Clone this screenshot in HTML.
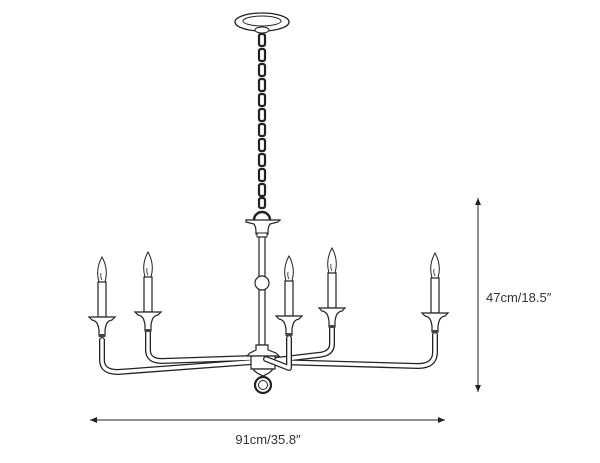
<!DOCTYPE html>
<html><head><style>
html,body{margin:0;padding:0;background:#fff;width:600px;height:463px;overflow:hidden}
text{font-family:"Liberation Sans",sans-serif;fill:#333}
</style></head><body>
<svg width="600" height="463" viewBox="0 0 600 463" xmlns="http://www.w3.org/2000/svg">
<defs>
<marker id="ar" markerWidth="8" markerHeight="8" refX="7" refY="4" orient="auto" markerUnits="userSpaceOnUse"><path d="M0,1 L7,4 L0,7 Z" fill="#222"/></marker>
<g id="candle">
 <path d="M0,-35 C-5,-26 -5,-17 -3,-10 L3,-10 C5,-17 5,-26 0,-35 Z" fill="#fff" stroke="#222" stroke-width="1"/>
 <path d="M0,-12 C-2,-15 -1,-18 -1,-19" fill="none" stroke="#222" stroke-width="0.8"/>
 <rect x="-4" y="-10" width="8" height="35" fill="#fff" stroke="#222" stroke-width="1.2"/>
 <path d="M-13,25 L13,25 L10,28 C5,29 4,32 3,38 L3,44 L-3,44 L-3,38 C-4,32 -5,29 -10,28 Z" fill="#fff" stroke="#222" stroke-width="1.2"/>
 <rect x="-3" y="42" width="6" height="3" fill="#444"/>
</g>
</defs>
<!-- canopy -->
<ellipse cx="262" cy="22" rx="27" ry="9" fill="#fff" stroke="#222" stroke-width="1.3"/>
<ellipse cx="262" cy="21" rx="19" ry="5" fill="none" stroke="#222" stroke-width="1"/>
<ellipse cx="262" cy="30" rx="7" ry="3" fill="#fff" stroke="#222" stroke-width="1"/>
<!-- chain -->
<g fill="none" stroke="#222" stroke-width="2.2">
 <rect x="259" y="34" width="6" height="12" rx="2"/>
 <rect x="259" y="49" width="6" height="12" rx="2"/>
 <rect x="259" y="64" width="6" height="12" rx="2"/>
 <rect x="259" y="79" width="6" height="12" rx="2"/>
 <rect x="259" y="94" width="6" height="12" rx="2"/>
 <rect x="259" y="109" width="6" height="12" rx="2"/>
 <rect x="259" y="124" width="6" height="12" rx="2"/>
 <rect x="259" y="139" width="6" height="12" rx="2"/>
 <rect x="259" y="154" width="6" height="12" rx="2"/>
 <rect x="259" y="169" width="6" height="12" rx="2"/>
 <rect x="259" y="184" width="6" height="12" rx="2"/>
 <rect x="259" y="198" width="6" height="10" rx="2"/>
</g>
<path d="M254,220 A8,8 0 0 1 270,220" fill="none" stroke="#222" stroke-width="2.5"/>
<!-- top plate -->
<path d="M246,220 L280,220 L278,222 L270,224 C268,227 268,230 268,234 L256,234 C256,230 256,227 254,224 L246,222 Z" fill="#fff" stroke="#222" stroke-width="1.2"/>
<rect x="257" y="233" width="10" height="4" fill="#fff" stroke="#222"/>
<rect x="259" y="237" width="6" height="108" fill="#fff" stroke="#222" stroke-width="1.2"/>
<circle cx="262" cy="283" r="7" fill="#fff" stroke="#222" stroke-width="1.2"/>
<!-- arms -->
<g fill="none" stroke-linecap="round" stroke-linejoin="round">
 <g stroke="#222" stroke-width="6">
  <path d="M102,340 L102,360 Q102,372 118,372 L252,362"/>
  <path d="M148,333 L148,350 Q148,361 162,361 L252,358"/>
  <path d="M332,328 L332,344 Q332,354 318,355 L276,360"/>
  <path d="M435,335 L435,352 Q435,366 418,366 L276,362"/>
 </g>
 <g stroke="#fff" stroke-width="3.4">
  <path d="M102,340 L102,360 Q102,372 118,372 L252,362"/>
  <path d="M148,333 L148,350 Q148,361 162,361 L252,358"/>
  <path d="M332,328 L332,344 Q332,354 318,355 L276,360"/>
  <path d="M435,335 L435,352 Q435,366 418,366 L276,362"/>
 </g>
</g>
<!-- hub -->
<path d="M256,345 L268,345 L268,350 L276,353 L279,356 L247,356 L250,353 L256,350 Z" fill="#fff" stroke="#222" stroke-width="1.2"/>
<rect x="251" y="356" width="24" height="13" fill="#fff" stroke="#222" stroke-width="1.2"/>
<path d="M253,369 L273,369 C270,373 267,374 263,376 C259,374 256,373 253,369 Z" fill="#fff" stroke="#222" stroke-width="1.2"/>
<circle cx="263" cy="385" r="8" fill="none" stroke="#222" stroke-width="2.2"/>
<circle cx="263" cy="385" r="4.5" fill="none" stroke="#222" stroke-width="1"/>
<!-- center candle arm -->
<g fill="none" stroke-linecap="round" stroke-linejoin="round">
 <path d="M289,338 L289,368 L266,359" stroke="#222" stroke-width="6"/>
 <path d="M289,338 L289,368 L266,359" stroke="#fff" stroke-width="3.4"/>
</g>
<!-- candles -->
<use href="#candle" transform="translate(102,292)"/>
<use href="#candle" transform="translate(148,287)"/>
<use href="#candle" transform="translate(289,291)"/>
<use href="#candle" transform="translate(332,283)"/>
<use href="#candle" transform="translate(435,288)"/>
<!-- dimensions -->
<line x1="478" y1="392" x2="478" y2="198" stroke="#222" stroke-width="1" marker-end="url(#ar)"/>
<line x1="478" y1="198" x2="478" y2="392" stroke="#222" stroke-width="1" marker-end="url(#ar)"/>
<text x="486" y="302" font-size="13">47cm/18.5″</text>
<line x1="445" y1="420" x2="90" y2="420" stroke="#222" stroke-width="1" marker-end="url(#ar)"/>
<line x1="90" y1="420" x2="445" y2="420" stroke="#222" stroke-width="1" marker-end="url(#ar)"/>
<text x="268" y="444" font-size="13" text-anchor="middle">91cm/35.8″</text>
</svg>
</body></html>
